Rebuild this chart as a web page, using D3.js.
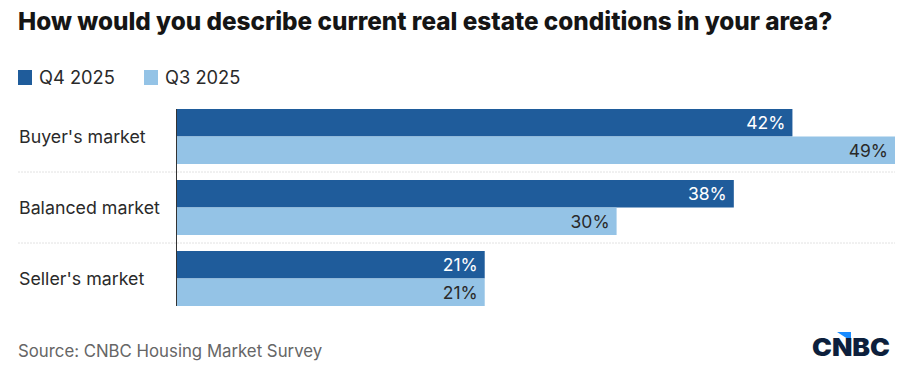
<!DOCTYPE html>
<html><head><meta charset="utf-8">
<script src="https://cdn.jsdelivr.net/npm/d3@7"></script>
<style>body{margin:0;background:#fff}svg{display:block}</style>
</head><body>
<svg id="c" width="919" height="388"></svg>
<script>
const categories = ["Buyer's market", "Balanced market", "Seller's market"];
const seriesNames = ["Q4 2025", "Q3 2025"];
const q4Values = [42, 38, 21];
const q3Values = [49, 30, 21];
const colors = ["#1f5c9b", "#94c3e6"];
const labelColors = ["#ffffff", "#2a2a2a"];

const svg = d3.select("#c");
const font = "Inter, 'Open Sans', sans-serif";

// Title
const title = svg.append("text").attr("x", 18).attr("y", 30)
  .attr("font-family", font).attr("font-weight", 800).attr("font-size", 22)
  .attr("fill", "#151515").text("How would you describe current real estate conditions in your area?");
const tw = title.node().getComputedTextLength();
title.attr("font-size", 22 * 815 / tw);

// Legend
const legX = [18, 144];
seriesNames.forEach((s, i) => {
  svg.append("rect").attr("x", legX[i]).attr("y", 70).attr("width", 14).attr("height", 15).attr("fill", colors[i]);
  svg.append("text").attr("x", legX[i] + 21).attr("y", 84).attr("font-family", font)
    .attr("font-size", 18.3).attr("fill", "#2a2a2a").text(s);
});

const x = d3.scaleLinear().domain([0, 49]).range([177, 895]);
const y = d3.scaleBand().domain(categories).range([109, 306]).paddingInner(16/71).paddingOuter(0);
const y1 = d3.scaleBand().domain(seriesNames).range([0, y.bandwidth()]);

// separators
categories.slice(0, -1).forEach((c, i) => {
  const yy = y(c) + y.bandwidth() + (y.step() - y.bandwidth()) / 2;
  svg.append("line").attr("x1", 18).attr("x2", 895).attr("y1", yy).attr("y2", yy)
    .attr("stroke", "#e2e2e2").attr("stroke-width", 1).attr("stroke-dasharray", "2,1");
});

const data = [q4Values, q3Values];
categories.forEach((c, ci) => {
  svg.append("text").attr("x", 19).attr("y", y(c) + y.bandwidth() / 2 + 6)
    .attr("font-family", font).attr("font-size", 17.8).attr("fill", "#2a2a2a").text(c);
  seriesNames.forEach((s, si) => {
    const v = data[si][ci];
    const by = y(c) + y1(s);
    svg.append("rect").attr("x", x(0)).attr("y", by).attr("width", x(v) - x(0))
      .attr("height", y1.bandwidth()).attr("fill", colors[si]);
    svg.append("text").attr("x", x(v) - 7).attr("y", by + y1.bandwidth() / 2 + 6.5)
      .attr("text-anchor", "end").attr("font-family", font).attr("font-size", 17.5)
      .attr("fill", labelColors[si]).text(v + "%");
  });
});

// axis line
svg.append("g").attr("transform", `translate(${x(0) - 0.5},0)`)
  .call(d3.axisLeft(y).tickSize(0).tickFormat(""))
  .call(g => g.select(".domain").attr("stroke", "#333").attr("d", `M0,${y.range()[0]}V${y.range()[1]}`));

// Source
svg.append("text").attr("x", 18).attr("y", 357).attr("font-family", font)
  .attr("font-size", 16.8).attr("fill", "#666").text("Source: CNBC Housing Market Survey");

// CNBC logo
svg.append("path").attr("d", "M837,332 L851,332 L851,341 Z").attr("fill", "#1a8cff");
const logo = svg.append("text").attr("x", 812).attr("y", 356).attr("font-family", font)
  .attr("font-weight", 900).attr("font-size", 24).attr("fill", "#0d1f3c").text("CNBC");
logo.attr("textLength", 78).attr("lengthAdjust", "spacingAndGlyphs");
</script>
</body></html>
